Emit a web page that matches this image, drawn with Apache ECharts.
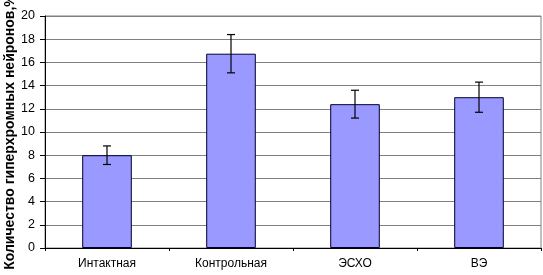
<!DOCTYPE html>
<html>
<head>
<meta charset="utf-8">
<script src="https://cdn.jsdelivr.net/npm/echarts@6/dist/echarts.min.js"></script>
<style>
  html, body { margin: 0; padding: 0; background: #fff; }
  #chart { width: 543px; height: 275px; }
</style>
</head>
<body>
<div id="chart"></div>
<script>
const groups = ["Интактная", "Контрольная", "ЭСХО", "ВЭ"];
const values = [8.0, 16.75, 12.4, 13.0];
const errors = [0.8, 1.65, 1.2, 1.3];
const yTicks = { min: 0, max: 20, interval: 2 };

const chart = echarts.init(document.getElementById("chart"));

const errorData = groups.map((g, i) => [i, values[i] - errors[i], values[i] + errors[i]]);

const option = {
  animation: false,
  textStyle: { fontFamily: "Liberation Sans, Arial, sans-serif" },
  grid: {
    left: 45, right: 2, top: 16, bottom: 27,
    outerBoundsMode: "none",
    containLabel: false,
    show: true, borderColor: "#808080", borderWidth: 1,
  },
  xAxis: {
    type: "category",
    data: groups,
    axisLine: { lineStyle: { color: "#000", width: 1 } },
    axisTick: { show: true, length: 3, lineStyle: { color: "#000" } },
    axisLabel: { color: "#000", fontSize: 12, margin: 10 },
  },
  yAxis: {
    type: "value",
    min: yTicks.min,
    max: yTicks.max,
    interval: yTicks.interval,
    name: "Количество гиперхромных нейронов,%",
    nameLocation: "middle",
    nameGap: 28,
    nameMoveOverlap: false,
    nameTextStyle: { color: "#000", fontSize: 14, fontWeight: "bold" },
    axisLine: { show: true, lineStyle: { color: "#000", width: 1 } },
    axisTick: { show: true, length: 5, lineStyle: { color: "#000" } },
    axisLabel: { color: "#000", fontSize: 12.5, margin: 10 },
    splitLine: { lineStyle: { color: "#808080", width: 1 } },
  },
  series: [
    {
      type: "bar",
      data: values,
      barWidth: "40%",
      itemStyle: { color: "#9999FF", borderColor: "#000033", borderWidth: 1 },
    },
    {
      type: "custom",
      data: errorData,
      z: 10,
      renderItem: (params, api) => {
        const x = api.value(0);
        const lo = api.coord([x, api.value(1)]);
        const hi = api.coord([x, api.value(2)]);
        const cap = 4;
        const style = { stroke: "#000", lineWidth: 1.2 };
        return {
          type: "group",
          children: [
            { type: "line", shape: { x1: hi[0], y1: hi[1], x2: lo[0], y2: lo[1] }, style },
            { type: "line", shape: { x1: hi[0] - cap, y1: hi[1], x2: hi[0] + cap, y2: hi[1] }, style },
            { type: "line", shape: { x1: lo[0] - cap, y1: lo[1], x2: lo[0] + cap, y2: lo[1] }, style },
          ],
        };
      },
    },
  ],
};

chart.setOption(option);
</script>
</body>
</html>
